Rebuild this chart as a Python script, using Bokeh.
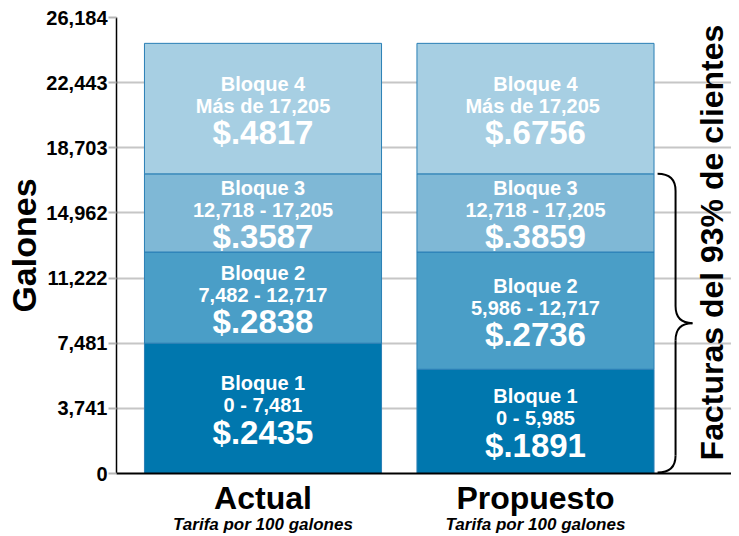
import math
from bokeh.plotting import figure
from bokeh.models import Range1d, FixedTicker, NumeralTickFormatter, Label, ColumnDataSource, LinearAxis
from bokeh.core.properties import value
from bokeh.embed import file_html
from bokeh.resources import INLINE

# ---------------- data ----------------
categories = ["Actual", "Propuesto"]
subtitle = "Tarifa por 100 galones"
block_names = ["Bloque 1", "Bloque 2", "Bloque 3", "Bloque 4"]
actual_bounds = [0, 7481, 12717, 17205, 24700]
propuesto_bounds = [0, 5985, 12717, 17205, 24700]
actual_ranges = ["0 - 7,481", "7,482 - 12,717", "12,718 - 17,205", "Más de 17,205"]
propuesto_ranges = ["0 - 5,985", "5,986 - 12,717", "12,718 - 17,205", "Más de  17,205"]
actual_rates = ["$.2435", "$.2838", "$.3587", "$.4817"]
propuesto_rates = ["$.1891", "$.2736", "$.3859", "$.6756"]
y_ticks = [0, 3741, 7481, 11222, 14962, 18703, 22443, 26184]
brace_label = "Facturas del 93% de clientes"
brace_span = [0, 17205]

block_colors = ["#0077ae", "#4a9ec7", "#7fb8d6", "#a7cfe3"]
x_pos = [1, 2]
FONT = "Liberation Sans"

rows = dict(x=[], bottom=[], top=[], mid=[], color=[], name=[], rng=[], rate=[])
for xp, bounds, rngs, rates in zip(x_pos, [actual_bounds, propuesto_bounds],
                                    [actual_ranges, propuesto_ranges],
                                    [actual_rates, propuesto_rates]):
    for i in range(4):
        rows["x"].append(xp)
        rows["bottom"].append(bounds[i])
        rows["top"].append(bounds[i + 1])
        rows["mid"].append((bounds[i] + bounds[i + 1]) / 2)
        rows["color"].append(block_colors[i])
        rows["name"].append(block_names[i])
        rows["rng"].append(rngs[i])
        rows["rate"].append(rates[i])
src = ColumnDataSource(rows)

p = figure(width=731, height=536,
           x_range=Range1d(0.4624, 2.7193), y_range=Range1d(0, 26184),
           output_backend="svg", toolbar_location=None,
           min_border_left=116, min_border_right=0,
           min_border_top=17, min_border_bottom=63)
p.outline_line_color = None
p.background_fill_color = "white"

p.vbar(x="x", width=0.87, bottom="bottom", top="top", fill_color="color",
       line_color="#2a7fb5", line_width=1, source=src)

common = dict(x="x", y="mid", text_align="center", text_baseline="middle",
              text_font=value(FONT), text_font_style="bold", text_color="white",
              source=src)
p.text(text="name", y_offset=-25, text_font_size="20px", **common)
p.text(text="rng", y_offset=-3, text_font_size="20px", **common)
p.text(text="rate", y_offset=24, text_font_size="33px", **common)

# y axis
yax = p.yaxis[0]
yax.ticker = FixedTicker(ticks=y_ticks)
yax.formatter = NumeralTickFormatter(format="0,0")
yax.major_label_text_font = FONT
yax.major_label_text_font_style = "bold"
yax.major_label_text_font_size = "20px"
yax.major_label_text_color = "black"
yax.major_label_standoff = 1
yax.major_tick_out = 8
yax.major_tick_in = 0
yax.major_tick_line_color = "#b5b5b5"
yax.major_tick_line_width = 2
yax.minor_tick_line_color = None
yax.axis_line_color = "black"
yax.axis_line_width = 1.5
yax.axis_label = "Galones"
yax.axis_label_text_font = FONT
yax.axis_label_text_font_style = "bold"
yax.axis_label_text_font_size = "34px"
yax.axis_label_text_color = "black"
yax.axis_label_standoff = 0

# x axis: categories
xax = p.xaxis[0]
xax.ticker = FixedTicker(ticks=x_pos)
xax.major_label_overrides = {x_pos[0]: categories[0], x_pos[1]: categories[1]}
xax.major_label_text_font = FONT
xax.major_label_text_font_style = "bold"
xax.major_label_text_font_size = "32px"
xax.major_label_text_color = "black"
xax.major_label_standoff = 6
xax.major_tick_out = 0
xax.major_tick_in = 0
xax.major_tick_line_color = None
xax.minor_tick_line_color = None
xax.axis_line_color = "black"
xax.axis_line_width = 2

# second axis below: subtitle
xax2 = LinearAxis(ticker=FixedTicker(ticks=x_pos),
                  major_label_overrides={x_pos[0]: subtitle, x_pos[1]: subtitle},
                  major_label_text_font=FONT, major_label_text_font_style="bold italic",
                  major_label_text_font_size="17px", major_label_text_color="black",
                  major_label_standoff=-4, major_tick_out=0, major_tick_in=0,
                  major_tick_line_color=None, minor_tick_line_color=None,
                  axis_line_color=None)
p.add_layout(xax2, "below")

p.xgrid.grid_line_color = None
p.ygrid.ticker = FixedTicker(ticks=y_ticks)
p.ygrid.grid_line_color = "#c6c6c6"
p.ygrid.grid_line_width = 2

# brace
bx0, bxs, bxt = 2.448, 2.514, 2.576
r = 980
btop = brace_span[1]
bbot = brace_span[0] + 60
bmid = (btop + bbot) / 2
p.quadratic(x0=[bx0, bxs, bxt, bxs], y0=[btop, bmid + r, bmid, bbot + r],
            x1=[bxs, bxt, bxs, bx0], y1=[btop - r, bmid, bmid - r, bbot],
            cx=[bxs, bxs, bxs, bxs], cy=[btop, bmid, bmid, bbot],
            line_color="black", line_width=2)
p.segment(x0=[bxs, bxs], y0=[btop - r, bmid - r], x1=[bxs, bxs], y1=[bmid + r, bbot + r],
          line_color="black", line_width=2)

p.add_layout(Label(x=2.646, y=13264, angle=math.pi / 2, text=brace_label,
                   text_align="center", text_baseline="middle", text_font=FONT,
                   text_font_style="bold", text_font_size="32px", text_color="black"))

open("out.html", "w").write(file_html(p, INLINE))
